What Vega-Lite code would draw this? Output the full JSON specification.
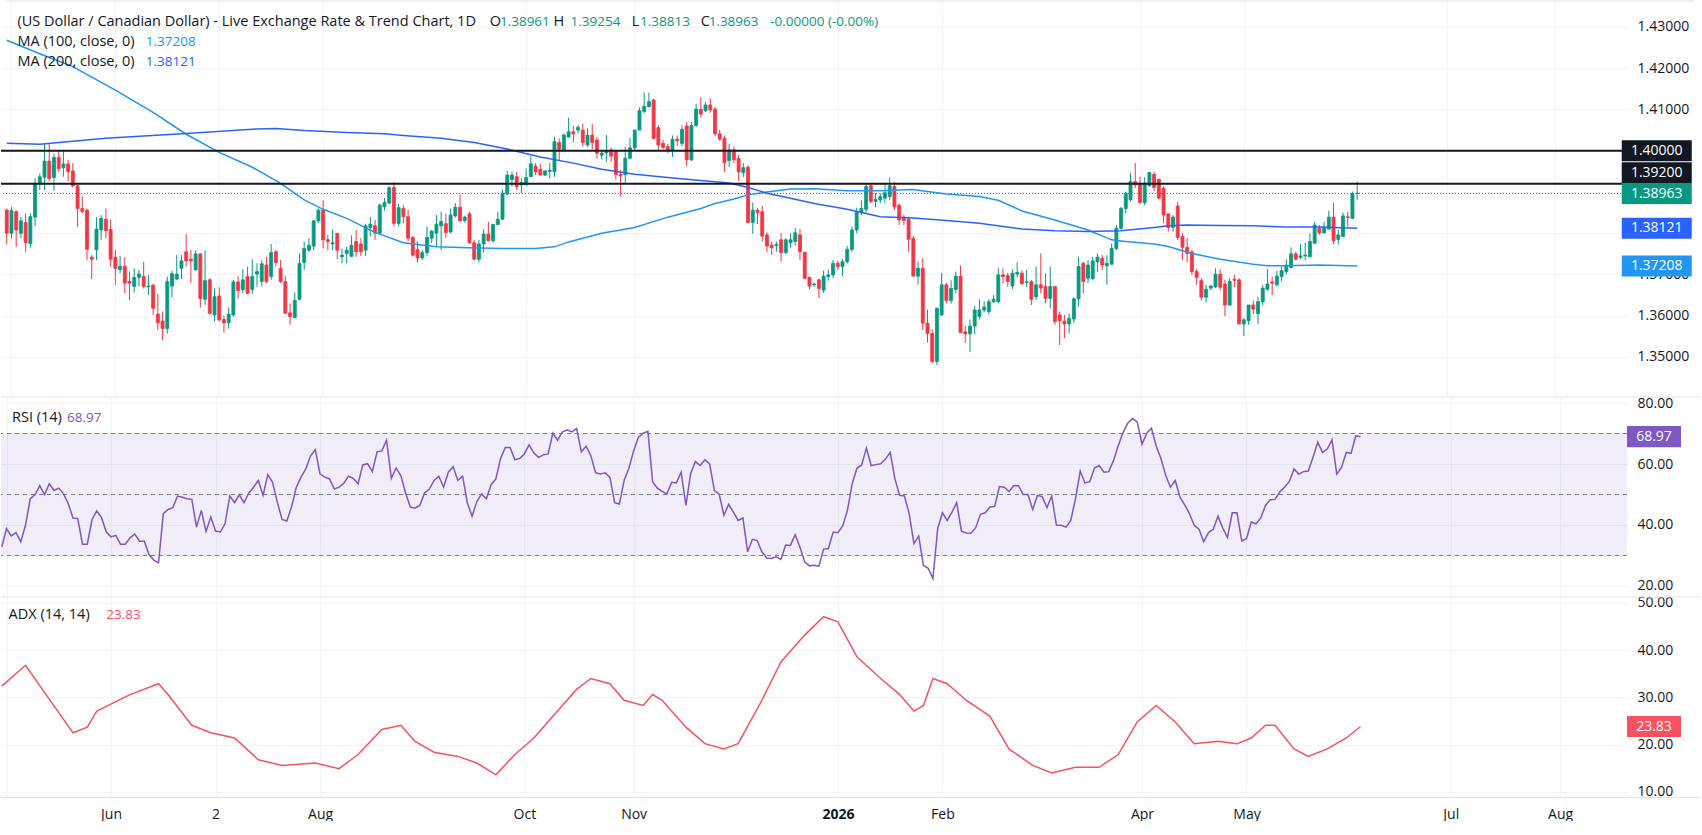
{
  "$schema": "https://vega.github.io/schema/vega-lite/v6.json",
  "padding": 0,
  "background": "white",
  "spacing": 0,
  "bounds": "flush",
  "config": {
    "view": {"stroke": null},
    "font": "Open Sans",
    "axis": {"labelFont": "Open Sans", "labelFontSize": 14, "labelColor": "#131722", "gridColor": "#f0f3fa", "ticks": false, "domain": false, "labelPadding": 10, "zindex": 0},
    "text": {"font": "Open Sans", "fontSize": 14}
  },
  "datasets": {"one": [{}]},
  "data": {"name": "bars", "values": [
{"o":1.3856,"h":1.386,"l":1.3773,"c":1.38,"r":32.8,"m1":1.4268,"m2":1.4018,"a":32.4},
{"o":1.38,"h":1.3863,"l":1.3788,"c":1.3855,"r":38.8},
{"o":1.3852,"h":1.3856,"l":1.3767,"c":1.3808,"r":36.4},
{"o":1.38,"h":1.384,"l":1.3788,"c":1.383,"r":37.5},
{"o":1.3826,"h":1.3848,"l":1.3754,"c":1.3777,"r":34.5},
{"o":1.3775,"h":1.3848,"l":1.3765,"c":1.384,"r":39.9,"a":36.8},
{"o":1.3839,"h":1.3933,"l":1.3817,"c":1.3921,"r":48.6},
{"o":1.3921,"h":1.3945,"l":1.3905,"c":1.3937,"r":49.9,"m1":1.4235,"m2":1.4016},
{"o":1.3936,"h":1.4018,"l":1.3905,"c":1.3975,"r":52.9},
{"o":1.3975,"h":1.4016,"l":1.3926,"c":1.3933,"r":49.9},
{"o":1.3935,"h":1.3993,"l":1.3903,"c":1.3984,"r":53.5},
{"o":1.3984,"h":1.4002,"l":1.3949,"c":1.3957,"r":51.3},
{"o":1.3959,"h":1.3998,"l":1.3937,"c":1.3968,"r":52.1},
{"o":1.3968,"h":1.3978,"l":1.3926,"c":1.3949,"r":50.2},
{"o":1.3951,"h":1.397,"l":1.3911,"c":1.3915,"r":47.0,"m1":1.4204},
{"o":1.3915,"h":1.392,"l":1.3815,"c":1.386,"r":42.3,"a":22.5},
{"o":1.386,"h":1.389,"l":1.3848,"c":1.3853,"r":42.1},
{"o":1.3856,"h":1.386,"l":1.3735,"c":1.3761,"r":33.7},
{"o":1.3742,"h":1.3747,"l":1.3689,"c":1.3737,"r":33.7,"a":23.7},
{"o":1.376,"h":1.3839,"l":1.3735,"c":1.381,"r":41.8},
{"o":1.3808,"h":1.3844,"l":1.3784,"c":1.3836,"r":44.6,"a":27.1},
{"o":1.3834,"h":1.386,"l":1.3788,"c":1.3806,"r":42.4,"m2":1.403},
{"o":1.3809,"h":1.3832,"l":1.3719,"c":1.3737,"r":37.7},
{"o":1.3742,"h":1.3759,"l":1.3675,"c":1.3715,"r":36.1,"m1":1.4147},
{"o":1.3712,"h":1.3745,"l":1.3703,"c":1.372,"r":36.6},
{"o":1.372,"h":1.3742,"l":1.3655,"c":1.3679,"r":33.7},
{"o":1.3683,"h":1.3707,"l":1.3638,"c":1.3679,"r":33.7},
{"o":1.3671,"h":1.3715,"l":1.3656,"c":1.3693,"r":35.8,"a":30.6},
{"o":1.3693,"h":1.3711,"l":1.3671,"c":1.3701,"r":37.0},
{"o":1.3695,"h":1.3731,"l":1.3666,"c":1.3671,"r":34.7},
{"o":1.367,"h":1.3699,"l":1.365,"c":1.3672,"r":34.7},
{"o":1.3674,"h":1.3677,"l":1.3602,"c":1.3618,"r":30.3,"m1":1.4093},
{"o":1.3604,"h":1.3653,"l":1.3565,"c":1.3583,"r":28.5},
{"o":1.3587,"h":1.361,"l":1.3541,"c":1.3569,"r":27.6,"a":32.9},
{"o":1.3569,"h":1.3695,"l":1.3557,"c":1.3683,"r":43.7},
{"o":1.3672,"h":1.3709,"l":1.3644,"c":1.3702,"r":45.1,"a":30.6},
{"o":1.3689,"h":1.3747,"l":1.3687,"c":1.3701,"r":45.7},
{"o":1.3715,"h":1.3747,"l":1.3688,"c":1.3733,"r":49.5},
{"o":1.3755,"h":1.3798,"l":1.3719,"c":1.3733,"r":49.1,"m1":1.404,"m2":1.4042},
{"o":1.3737,"h":1.3759,"l":1.368,"c":1.3733,"r":48.6},
{"o":1.3711,"h":1.3759,"l":1.3711,"c":1.375,"r":48.4,"a":24.1},
{"o":1.375,"h":1.3751,"l":1.362,"c":1.3642,"r":39.3},
{"o":1.364,"h":1.3759,"l":1.3626,"c":1.3685,"r":44.8},
{"o":1.3687,"h":1.3691,"l":1.3602,"c":1.3606,"r":37.9},
{"o":1.3602,"h":1.3666,"l":1.3586,"c":1.3646,"r":42.6,"a":22.5},
{"o":1.3648,"h":1.3669,"l":1.3586,"c":1.359,"r":38.0,"m1":1.3996},
{"o":1.3591,"h":1.3601,"l":1.3559,"c":1.3583,"r":37.7},
{"o":1.3583,"h":1.362,"l":1.3569,"c":1.3604,"r":40.4},
{"o":1.3602,"h":1.3687,"l":1.3598,"c":1.3682,"r":49.5},
{"o":1.3682,"h":1.3696,"l":1.3642,"c":1.3661,"r":47.3,"a":21.4},
{"o":1.3663,"h":1.3713,"l":1.3654,"c":1.3687,"r":49.9},
{"o":1.3695,"h":1.3719,"l":1.3653,"c":1.3654,"r":47.3},
{"o":1.3664,"h":1.3737,"l":1.3653,"c":1.3695,"r":50.5,"m1":1.396},
{"o":1.3701,"h":1.3727,"l":1.367,"c":1.3707,"r":52.4,"m2":1.4053},
{"o":1.3683,"h":1.3734,"l":1.3672,"c":1.3726,"r":54.6,"a":16.8},
{"o":1.3723,"h":1.3743,"l":1.3679,"c":1.3683,"r":49.7},
{"o":1.3695,"h":1.3774,"l":1.3687,"c":1.3753,"r":56.5},
{"o":1.3755,"h":1.3759,"l":1.3719,"c":1.3729,"r":54.0,"m2":1.4054},
{"o":1.3715,"h":1.3735,"l":1.3679,"c":1.3683,"r":47.5,"m1":1.3921},
{"o":1.3683,"h":1.3696,"l":1.3606,"c":1.3606,"r":41.8,"a":15.6},
{"o":1.3607,"h":1.363,"l":1.3578,"c":1.3598,"r":41.3},
{"o":1.3595,"h":1.3656,"l":1.3595,"c":1.3637,"r":45.9},
{"o":1.364,"h":1.3751,"l":1.3638,"c":1.3727,"r":52.4},
{"o":1.3729,"h":1.378,"l":1.3711,"c":1.3763,"r":55.7,"m1":1.3881,"m2":1.4049},
{"o":1.3759,"h":1.3788,"l":1.3755,"c":1.3771,"r":58.4},
{"o":1.3769,"h":1.3832,"l":1.3759,"c":1.383,"r":62.7},
{"o":1.383,"h":1.386,"l":1.3824,"c":1.3856,"r":64.7,"a":16.1},
{"o":1.3856,"h":1.388,"l":1.3763,"c":1.3784,"r":56.7,"m1":1.3858},
{"o":1.3784,"h":1.3796,"l":1.3759,"c":1.378,"r":55.7},
{"o":1.3774,"h":1.3809,"l":1.3759,"c":1.3777,"r":55.1},
{"o":1.38,"h":1.38,"l":1.3737,"c":1.3759,"r":51.8},
{"o":1.3743,"h":1.3763,"l":1.3727,"c":1.3747,"r":52.4,"a":14.9},
{"o":1.3751,"h":1.3767,"l":1.3727,"c":1.3759,"r":53.7,"m1":1.3836,"m2":1.4044},
{"o":1.3744,"h":1.3795,"l":1.3743,"c":1.3771,"r":56.0},
{"o":1.378,"h":1.3808,"l":1.3743,"c":1.3755,"r":55.3},
{"o":1.3774,"h":1.3788,"l":1.3745,"c":1.3755,"r":53.5,"a":17.9},
{"o":1.3759,"h":1.3823,"l":1.3745,"c":1.3818,"r":59.7},
{"o":1.3814,"h":1.384,"l":1.3792,"c":1.3822,"r":60.1},
{"o":1.3818,"h":1.3832,"l":1.3784,"c":1.38,"r":57.5,"m1":1.3802},
{"o":1.38,"h":1.3872,"l":1.38,"c":1.3868,"r":64.0},
{"o":1.3864,"h":1.3885,"l":1.3855,"c":1.3874,"r":64.3,"m2":1.4041,"a":23.2},
{"o":1.3873,"h":1.3913,"l":1.3871,"c":1.3911,"r":67.8},
{"o":1.3911,"h":1.3924,"l":1.3816,"c":1.3824,"r":55.3},
{"o":1.3824,"h":1.3871,"l":1.3816,"c":1.3862,"r":58.7},
{"o":1.386,"h":1.3868,"l":1.3824,"c":1.384,"r":56.2,"m1":1.3777,"m2":1.4037,"a":24.1},
{"o":1.384,"h":1.3857,"l":1.378,"c":1.3788,"r":50.5},
{"o":1.379,"h":1.3793,"l":1.3743,"c":1.3747,"r":45.9},
{"o":1.376,"h":1.378,"l":1.3729,"c":1.374,"r":45.5,"a":20.7},
{"o":1.374,"h":1.3759,"l":1.3735,"c":1.3753,"r":46.4},
{"o":1.3753,"h":1.3816,"l":1.3745,"c":1.379,"r":50.5},
{"o":1.3788,"h":1.3808,"l":1.3776,"c":1.3805,"r":51.8},
{"o":1.38,"h":1.3844,"l":1.3767,"c":1.3822,"r":54.6,"m1":1.3767,"a":18.4},
{"o":1.3818,"h":1.3852,"l":1.3759,"c":1.3828,"r":56.0,"m2":1.403},
{"o":1.3823,"h":1.3848,"l":1.3789,"c":1.3802,"r":52.4},
{"o":1.3803,"h":1.386,"l":1.38,"c":1.3844,"r":57.3},
{"o":1.3842,"h":1.3873,"l":1.3838,"c":1.3863,"r":59.2},
{"o":1.3863,"h":1.3893,"l":1.3828,"c":1.383,"r":54.6,"a":17.5},
{"o":1.3831,"h":1.3843,"l":1.3826,"c":1.3839,"r":56.0},
{"o":1.3847,"h":1.3852,"l":1.3774,"c":1.3777,"r":47.3,"m1":1.3765},
{"o":1.3777,"h":1.3784,"l":1.3735,"c":1.3737,"r":42.9,"m2":1.402},
{"o":1.3737,"h":1.3784,"l":1.3729,"c":1.3774,"r":47.7,"a":16.1},
{"o":1.3774,"h":1.381,"l":1.3753,"c":1.3798,"r":50.2},
{"o":1.3798,"h":1.3828,"l":1.378,"c":1.3782,"r":48.6},
{"o":1.3782,"h":1.3823,"l":1.3777,"c":1.3821,"r":53.2},
{"o":1.3821,"h":1.3852,"l":1.382,"c":1.3834,"r":55.1,"a":13.6},
{"o":1.3834,"h":1.3906,"l":1.3832,"c":1.3897,"r":61.8,"m1":1.3763},
{"o":1.3895,"h":1.3952,"l":1.3893,"c":1.3941,"r":65.4,"m2":1.4004},
{"o":1.393,"h":1.3949,"l":1.3913,"c":1.3941,"r":65.4},
{"o":1.3937,"h":1.3949,"l":1.3905,"c":1.3913,"r":61.4,"a":17.9},
{"o":1.3917,"h":1.3933,"l":1.3897,"c":1.3923,"r":61.8},
{"o":1.3917,"h":1.3957,"l":1.3917,"c":1.3935,"r":63.3},
{"o":1.3937,"h":1.3987,"l":1.3937,"c":1.3968,"r":66.3},
{"o":1.3963,"h":1.397,"l":1.3941,"c":1.3949,"r":63.6,"m1":1.3763,"a":21.4},
{"o":1.3955,"h":1.3968,"l":1.3941,"c":1.3941,"r":62.2,"m2":1.3985},
{"o":1.3941,"h":1.3953,"l":1.3939,"c":1.3951,"r":63.0},
{"o":1.395,"h":1.3971,"l":1.3933,"c":1.3953,"r":63.3},
{"o":1.3949,"h":1.4034,"l":1.3937,"c":1.4022,"r":70.1,"m1":1.3767,"a":26.0},
{"o":1.402,"h":1.403,"l":1.3977,"c":1.4003,"r":67.8},
{"o":1.4,"h":1.4042,"l":1.3998,"c":1.4038,"r":70.5},
{"o":1.4033,"h":1.408,"l":1.4032,"c":1.4046,"r":71.2,"m1":1.3779},
{"o":1.4046,"h":1.406,"l":1.402,"c":1.4041,"r":70.5,"m2":1.397},
{"o":1.405,"h":1.4062,"l":1.4042,"c":1.4057,"r":71.6,"a":31.7},
{"o":1.405,"h":1.4066,"l":1.401,"c":1.402,"r":64.0},
{"o":1.4014,"h":1.4054,"l":1.401,"c":1.4038,"r":65.8},
{"o":1.4038,"h":1.4065,"l":1.4003,"c":1.402,"r":62.7,"a":34.0},
{"o":1.4026,"h":1.4033,"l":1.3981,"c":1.3994,"r":57.1},
{"o":1.3989,"h":1.3998,"l":1.3979,"c":1.3994,"r":56.7,"m1":1.38,"m2":1.3955},
{"o":1.3995,"h":1.4038,"l":1.3973,"c":1.3998,"r":57.1},
{"o":1.4002,"h":1.4008,"l":1.3973,"c":1.3987,"r":55.7,"a":32.9},
{"o":1.3998,"h":1.4002,"l":1.393,"c":1.3942,"r":47.3},
{"o":1.3943,"h":1.3953,"l":1.3889,"c":1.3939,"r":46.9},
{"o":1.3942,"h":1.401,"l":1.3922,"c":1.3982,"r":54.6,"a":29.4},
{"o":1.3982,"h":1.4031,"l":1.398,"c":1.4007,"r":58.6},
{"o":1.4007,"h":1.4052,"l":1.4001,"c":1.405,"r":64.3,"m1":1.3814,"m2":1.3943},
{"o":1.405,"h":1.4105,"l":1.405,"c":1.4097,"r":68.7},
{"o":1.4095,"h":1.4141,"l":1.4091,"c":1.4108,"r":70.1,"a":28.3},
{"o":1.4107,"h":1.4141,"l":1.4105,"c":1.4119,"r":70.7},
{"o":1.4123,"h":1.4126,"l":1.4028,"c":1.403,"r":54.2,"a":30.6},
{"o":1.4056,"h":1.4062,"l":1.4002,"c":1.4014,"r":52.1},
{"o":1.4018,"h":1.4026,"l":1.4003,"c":1.4008,"r":51.0,"a":29.4},
{"o":1.401,"h":1.4017,"l":1.3994,"c":1.4,"r":50.2,"m1":1.3839,"m2":1.3935},
{"o":1.4002,"h":1.4037,"l":1.3985,"c":1.4028,"r":54.0},
{"o":1.4028,"h":1.4037,"l":1.4012,"c":1.4024,"r":53.8},
{"o":1.4018,"h":1.4062,"l":1.401,"c":1.4052,"r":57.3},
{"o":1.406,"h":1.407,"l":1.3962,"c":1.3978,"r":46.4,"a":23.7},
{"o":1.3978,"h":1.407,"l":1.3975,"c":1.4061,"r":56.8},
{"o":1.4061,"h":1.4114,"l":1.4058,"c":1.4101,"r":60.8},
{"o":1.41,"h":1.413,"l":1.408,"c":1.4089,"r":59.5,"m1":1.386,"m2":1.3928},
{"o":1.4097,"h":1.4118,"l":1.4094,"c":1.4111,"r":61.4,"a":20.2},
{"o":1.4111,"h":1.4127,"l":1.4092,"c":1.4099,"r":60.0},
{"o":1.4101,"h":1.4106,"l":1.4036,"c":1.4041,"r":51.3,"m1":1.3872},
{"o":1.4041,"h":1.405,"l":1.4024,"c":1.4028,"r":50.1},
{"o":1.403,"h":1.4037,"l":1.3948,"c":1.3971,"r":43.2,"a":19.1},
{"o":1.3976,"h":1.4017,"l":1.396,"c":1.4002,"r":46.8,"m2":1.3922},
{"o":1.4002,"h":1.401,"l":1.397,"c":1.3978,"r":44.2,"m1":1.3883},
{"o":1.3981,"h":1.399,"l":1.3927,"c":1.3949,"r":41.5,"a":20.2},
{"o":1.3947,"h":1.397,"l":1.3936,"c":1.3959,"r":42.3},
{"o":1.396,"h":1.3965,"l":1.3826,"c":1.3826,"r":31.2,"m1":1.3893,"m2":1.3911},
{"o":1.3826,"h":1.3874,"l":1.3799,"c":1.3856,"r":35.3},
{"o":1.3856,"h":1.3861,"l":1.3822,"c":1.385,"r":34.9},
{"o":1.3852,"h":1.3866,"l":1.378,"c":1.3793,"r":31.2,"a":29.4},
{"o":1.3796,"h":1.3802,"l":1.3754,"c":1.3769,"r":29.2,"m1":1.39,"m2":1.3897},
{"o":1.3771,"h":1.378,"l":1.3747,"c":1.3765,"r":29.0},
{"o":1.377,"h":1.378,"l":1.3755,"c":1.3773,"r":29.6},
{"o":1.3784,"h":1.38,"l":1.3731,"c":1.3753,"r":28.7,"a":37.5},
{"o":1.3753,"h":1.3788,"l":1.375,"c":1.3784,"r":33.4},
{"o":1.3777,"h":1.38,"l":1.3765,"c":1.3784,"r":33.3,"m1":1.3907,"m2":1.3885},
{"o":1.378,"h":1.3813,"l":1.377,"c":1.3801,"r":36.8},
{"o":1.3796,"h":1.381,"l":1.3735,"c":1.3755,"r":32.8},
{"o":1.3754,"h":1.3754,"l":1.3688,"c":1.3691,"r":27.9,"a":43.2},
{"o":1.3693,"h":1.3695,"l":1.3664,"c":1.3672,"r":26.6},
{"o":1.3675,"h":1.368,"l":1.367,"c":1.3677,"r":26.8,"m1":1.3908,"m2":1.3872},
{"o":1.3687,"h":1.369,"l":1.3643,"c":1.3666,"r":26.5},
{"o":1.3662,"h":1.3709,"l":1.3655,"c":1.3696,"r":32.1,"a":47.1},
{"o":1.3695,"h":1.3712,"l":1.3685,"c":1.3699,"r":32.3},
{"o":1.3699,"h":1.3735,"l":1.3691,"c":1.3727,"r":37.7},
{"o":1.3727,"h":1.3733,"l":1.3711,"c":1.3719,"r":37.5,"a":46.0},
{"o":1.3719,"h":1.3737,"l":1.3696,"c":1.3731,"r":39.7},
{"o":1.3731,"h":1.3769,"l":1.3727,"c":1.3761,"r":44.8,"m1":1.3903,"m2":1.3858},
{"o":1.3761,"h":1.3816,"l":1.3755,"c":1.3808,"r":53.5},
{"o":1.3808,"h":1.3862,"l":1.38,"c":1.3852,"r":58.6,"a":38.6},
{"o":1.3852,"h":1.388,"l":1.3844,"c":1.386,"r":59.7},
{"o":1.3858,"h":1.3921,"l":1.385,"c":1.3913,"r":65.2,"m2":1.3848},
{"o":1.3915,"h":1.3921,"l":1.3873,"c":1.3877,"r":59.5},
{"o":1.3877,"h":1.3897,"l":1.3863,"c":1.3882,"r":59.8},
{"o":1.3881,"h":1.3897,"l":1.3873,"c":1.3889,"r":60.1,"m1":1.3903,"m2":1.384,"a":34.0},
{"o":1.3885,"h":1.3921,"l":1.3873,"c":1.3898,"r":61.6},
{"o":1.3889,"h":1.3935,"l":1.3881,"c":1.3915,"r":63.8},
{"o":1.3913,"h":1.3925,"l":1.3856,"c":1.3864,"r":55.1},
{"o":1.3868,"h":1.3872,"l":1.382,"c":1.3832,"r":49.7,"a":30.6},
{"o":1.3839,"h":1.3845,"l":1.382,"c":1.3831,"r":49.5},
{"o":1.3834,"h":1.384,"l":1.3755,"c":1.3785,"r":43.7},
{"o":1.3788,"h":1.3793,"l":1.3696,"c":1.3696,"r":33.9,"m1":1.3906,"m2":1.3837,"a":27.1},
{"o":1.3696,"h":1.3731,"l":1.3675,"c":1.3715,"r":36.4},
{"o":1.3715,"h":1.374,"l":1.3565,"c":1.3582,"r":26.8,"a":28.3},
{"o":1.3582,"h":1.3615,"l":1.3535,"c":1.3557,"r":25.8,"m1":1.3901},
{"o":1.3557,"h":1.3567,"l":1.3485,"c":1.3489,"r":22.5,"a":34.0},
{"o":1.3489,"h":1.362,"l":1.348,"c":1.3618,"r":38.8},
{"o":1.3602,"h":1.3704,"l":1.36,"c":1.3675,"r":44.0},
{"o":1.3675,"h":1.368,"l":1.363,"c":1.3637,"r":41.5,"m1":1.3895,"m2":1.3831,"a":32.9},
{"o":1.3637,"h":1.3686,"l":1.3629,"c":1.3666,"r":44.2},
{"o":1.3664,"h":1.3707,"l":1.3655,"c":1.3696,"r":47.3},
{"o":1.3696,"h":1.3722,"l":1.3559,"c":1.3559,"r":38.0},
{"o":1.3561,"h":1.3575,"l":1.3534,"c":1.3556,"r":37.4,"a":29.4},
{"o":1.3556,"h":1.3591,"l":1.3512,"c":1.3575,"r":37.3},
{"o":1.3575,"h":1.3624,"l":1.3555,"c":1.3614,"r":39.1},
{"o":1.3598,"h":1.364,"l":1.3591,"c":1.3614,"r":43.5,"m1":1.3889,"m2":1.3824},
{"o":1.3614,"h":1.3635,"l":1.3608,"c":1.3621,"r":44.0},
{"o":1.361,"h":1.364,"l":1.3603,"c":1.3634,"r":45.9,"a":26.0},
{"o":1.3634,"h":1.365,"l":1.363,"c":1.364,"r":46.1},
{"o":1.3634,"h":1.3715,"l":1.363,"c":1.3699,"r":52.6,"m1":1.388},
{"o":1.3699,"h":1.3715,"l":1.3678,"c":1.3695,"r":52.4},
{"o":1.3697,"h":1.3704,"l":1.367,"c":1.3683,"r":51.0,"a":19.1},
{"o":1.3672,"h":1.3712,"l":1.3664,"c":1.3703,"r":52.9},
{"o":1.3701,"h":1.373,"l":1.3693,"c":1.3705,"r":52.9},
{"o":1.3703,"h":1.371,"l":1.3674,"c":1.3678,"r":50.0,"m1":1.3854,"m2":1.381},
{"o":1.3681,"h":1.3711,"l":1.367,"c":1.3682,"r":50.0},
{"o":1.3683,"h":1.3687,"l":1.3626,"c":1.364,"r":45.1,"a":15.6},
{"o":1.3646,"h":1.3719,"l":1.3638,"c":1.3675,"r":49.7},
{"o":1.3675,"h":1.3751,"l":1.3654,"c":1.3667,"r":49.3},
{"o":1.3671,"h":1.3703,"l":1.363,"c":1.3642,"r":45.7},
{"o":1.3642,"h":1.3719,"l":1.3618,"c":1.3671,"r":49.5,"a":14.0},
{"o":1.3671,"h":1.3671,"l":1.3578,"c":1.3586,"r":39.9,"m1":1.3832,"m2":1.3806},
{"o":1.3602,"h":1.361,"l":1.3529,"c":1.3588,"r":39.9},
{"o":1.3587,"h":1.3602,"l":1.3545,"c":1.358,"r":39.3},
{"o":1.358,"h":1.3606,"l":1.3557,"c":1.3594,"r":41.4},
{"o":1.3592,"h":1.3645,"l":1.3582,"c":1.3641,"r":48.6,"a":15.2},
{"o":1.3641,"h":1.3743,"l":1.3622,"c":1.3719,"r":57.7},
{"o":1.3727,"h":1.3731,"l":1.3654,"c":1.3683,"r":53.8},
{"o":1.3691,"h":1.3735,"l":1.3679,"c":1.3723,"r":54.2,"m1":1.3808,"m2":1.3804},
{"o":1.369,"h":1.3743,"l":1.3687,"c":1.3733,"r":58.7},
{"o":1.3731,"h":1.3751,"l":1.3707,"c":1.3742,"r":59.5,"a":15.2},
{"o":1.3739,"h":1.3747,"l":1.3711,"c":1.3723,"r":57.3},
{"o":1.3721,"h":1.3747,"l":1.3675,"c":1.3727,"r":57.5},
{"o":1.3725,"h":1.3775,"l":1.3723,"c":1.3763,"r":61.1,"m1":1.3784},
{"o":1.3763,"h":1.382,"l":1.3759,"c":1.3812,"r":66.0,"a":17.9},
{"o":1.3812,"h":1.3864,"l":1.3808,"c":1.386,"r":70.3,"m2":1.3806},
{"o":1.386,"h":1.3901,"l":1.3848,"c":1.3897,"r":73.4,"m1":1.378},
{"o":1.3881,"h":1.3947,"l":1.3877,"c":1.3925,"r":74.9},
{"o":1.3925,"h":1.397,"l":1.3909,"c":1.3917,"r":73.8,"a":24.8},
{"o":1.3921,"h":1.3937,"l":1.3873,"c":1.3874,"r":66.5},
{"o":1.3874,"h":1.3936,"l":1.3868,"c":1.3921,"r":70.1},
{"o":1.3915,"h":1.3949,"l":1.3913,"c":1.3947,"r":71.7},
{"o":1.3943,"h":1.3949,"l":1.3903,"c":1.3911,"r":65.8,"m1":1.3774,"m2":1.3814,"a":28.3},
{"o":1.3931,"h":1.3931,"l":1.3881,"c":1.3885,"r":61.8},
{"o":1.3909,"h":1.3913,"l":1.3824,"c":1.3844,"r":56.2},
{"o":1.3847,"h":1.3847,"l":1.3804,"c":1.3814,"r":52.4,"m1":1.3768,"m2":1.3818},
{"o":1.3814,"h":1.3844,"l":1.3804,"c":1.3839,"r":54.6,"a":24.8},
{"o":1.3866,"h":1.3877,"l":1.3784,"c":1.379,"r":49.1},
{"o":1.3792,"h":1.38,"l":1.3735,"c":1.3766,"r":46.6},
{"o":1.3766,"h":1.3788,"l":1.3729,"c":1.3751,"r":43.7,"m2":1.382},
{"o":1.3755,"h":1.3759,"l":1.3699,"c":1.3707,"r":39.9,"m1":1.3751,"a":20.2},
{"o":1.3707,"h":1.3713,"l":1.3675,"c":1.3693,"r":38.6},
{"o":1.3685,"h":1.3691,"l":1.3637,"c":1.3645,"r":34.5},
{"o":1.3645,"h":1.3675,"l":1.3632,"c":1.3664,"r":37.5},
{"o":1.3667,"h":1.3675,"l":1.3662,"c":1.3672,"r":38.6},
{"o":1.367,"h":1.3715,"l":1.3667,"c":1.3701,"r":42.9,"a":20.7},
{"o":1.3701,"h":1.3713,"l":1.3662,"c":1.3669,"r":39.0,"m1":1.3737,"m2":1.3819},
{"o":1.3677,"h":1.3687,"l":1.3599,"c":1.3626,"r":35.9},
{"o":1.3626,"h":1.3691,"l":1.3624,"c":1.3683,"r":44.0},
{"o":1.3688,"h":1.3699,"l":1.367,"c":1.3686,"r":44.0,"a":20.2},
{"o":1.3687,"h":1.3691,"l":1.358,"c":1.358,"r":34.8},
{"o":1.358,"h":1.3595,"l":1.3551,"c":1.359,"r":35.5},
{"o":1.3588,"h":1.3626,"l":1.3578,"c":1.3626,"r":41.0,"a":21.4},
{"o":1.3626,"h":1.3637,"l":1.3604,"c":1.3616,"r":40.4,"m1":1.3725,"m2":1.3818},
{"o":1.3605,"h":1.3645,"l":1.358,"c":1.3634,"r":42.3},
{"o":1.3634,"h":1.3675,"l":1.3626,"c":1.3667,"r":46.4,"a":24.1},
{"o":1.3664,"h":1.3713,"l":1.3661,"c":1.3677,"r":48.3,"m1":1.3721},
{"o":1.3682,"h":1.3695,"l":1.365,"c":1.3679,"r":48.4,"a":24.1},
{"o":1.3675,"h":1.3709,"l":1.3671,"c":1.3696,"r":50.8},
{"o":1.3695,"h":1.3723,"l":1.3683,"c":1.3709,"r":52.4},
{"o":1.3707,"h":1.3737,"l":1.3701,"c":1.3723,"r":54.2,"m1":1.3721,"m2":1.3815},
{"o":1.3717,"h":1.3766,"l":1.3715,"c":1.375,"r":58.4,"a":19.1},
{"o":1.375,"h":1.3755,"l":1.3734,"c":1.3737,"r":56.7},
{"o":1.3742,"h":1.3774,"l":1.3737,"c":1.3745,"r":57.5},
{"o":1.3745,"h":1.3777,"l":1.3734,"c":1.3747,"r":57.7,"a":17.5},
{"o":1.3743,"h":1.38,"l":1.3742,"c":1.378,"r":62.2},
{"o":1.3776,"h":1.3828,"l":1.3774,"c":1.382,"r":67.1},
{"o":1.3812,"h":1.382,"l":1.3796,"c":1.3801,"r":63.8,"m1":1.3723,"m2":1.3815},
{"o":1.3801,"h":1.3828,"l":1.38,"c":1.3814,"r":64.9,"a":19.1},
{"o":1.381,"h":1.3855,"l":1.381,"c":1.3839,"r":67.9},
{"o":1.3839,"h":1.3873,"l":1.3774,"c":1.3782,"r":56.7},
{"o":1.3785,"h":1.3808,"l":1.3772,"c":1.3796,"r":58.9},
{"o":1.3792,"h":1.385,"l":1.3792,"c":1.3842,"r":63.8,"a":21.4},
{"o":1.384,"h":1.3852,"l":1.3816,"c":1.3838,"r":63.5},
{"o":1.3836,"h":1.3901,"l":1.3834,"c":1.3896,"r":69.2},
{"o":1.38961,"h":1.39254,"l":1.38813,"c":1.38963,"r":68.97,"m1":1.37208,"m2":1.38121,"a":23.83}
  ]},
  "transform": [{"window": [{"op": "row_number", "as": "n"}]}],
  "vconcat": [
    {
      "width": 1626,
      "height": 397,
      "layer": [
        {
          "mark": {"type": "rule", "strokeWidth": 1, "clip": true},
          "encoding": {
            "x": {"field": "n", "type": "quantitative", "title": null,
                  "scale": {"domain": [0.842, 343.09], "nice": false, "zero": false},
                  "axis": {"values": [2, 24, 46, 68, 111, 134, 177, 199, 241, 263, 306, 329], "labels": false, "grid": true}},
            "y": {"field": "l", "type": "quantitative", "title": null,
                  "scale": {"domain": [1.3403, 1.436545], "nice": false, "zero": false},
                  "axis": {"orient": "right", "values": [1.35, 1.36, 1.37, 1.38, 1.39, 1.4, 1.41, 1.42, 1.43], "grid": true,
                           "labelExpr": "datum.value > 1.375 && datum.value < 1.405 ? '' : format(datum.value, '.5f')"}},
            "y2": {"field": "h"},
            "color": {"condition": {"test": "datum.c >= datum.o", "value": "#089981"}, "value": "#f23645"}
          }
        },
        {
          "mark": {"type": "bar", "width": 3, "strokeWidth": 0.8, "clip": true},
          "encoding": {
            "x": {"field": "n", "type": "quantitative"},
            "y": {"field": "o", "type": "quantitative", "title": null},
            "y2": {"field": "c"},
            "fill": {"condition": {"test": "datum.c >= datum.o", "value": "#089981"}, "value": "#f23645"},
            "stroke": {"condition": {"test": "datum.c >= datum.o", "value": "#089981"}, "value": "#f23645"}
          }
        },
        {
          "transform": [{"filter": "isValid(datum.m1)"}],
          "mark": {"type": "line", "color": "#2196f3", "strokeWidth": 1.5, "clip": true},
          "encoding": {
            "x": {"field": "n", "type": "quantitative"},
            "y": {"field": "m1", "type": "quantitative", "title": null}
          }
        },
        {
          "transform": [{"filter": "isValid(datum.m2)"}],
          "mark": {"type": "line", "color": "#2962ff", "strokeWidth": 1.5, "clip": true},
          "encoding": {
            "x": {"field": "n", "type": "quantitative"},
            "y": {"field": "m2", "type": "quantitative", "title": null}
          }
        },
        {"data": {"name": "one"}, "mark": {"type": "rule", "color": "#e0e3eb", "strokeWidth": 1}, "encoding": {"x": {"datum": 0.842}, "x2": {"datum": 358.6}, "y": {"datum": 1.4363}}},
        {"data": {"name": "one"}, "mark": {"type": "rule", "color": "#131722", "strokeWidth": 2}, "encoding": {"y": {"datum": 1.4}}},
        {"data": {"name": "one"}, "mark": {"type": "rule", "color": "#131722", "strokeWidth": 2}, "encoding": {"y": {"datum": 1.392}}},
        {"data": {"name": "one"}, "mark": {"type": "rule", "color": "#089981", "strokeWidth": 1, "strokeDash": [1, 2]}, "encoding": {"y": {"datum": 1.38963}}},
        {"data": {"name": "one"}, "mark": {"type": "text", "text": "(US Dollar / Canadian Dollar) - Live Exchange Rate & Trend Chart, 1D", "align": "left", "baseline": "middle", "color": "#131722", "fontSize": 14.5}, "encoding": {"x": {"datum": 3.263}, "y": {"datum": 1.431284}}},
        {"data": {"name": "one"}, "mark": {"type": "text", "text": "O", "align": "left", "baseline": "middle", "color": "#131722", "fontSize": 14.5}, "encoding": {"x": {"datum": 103.28}, "y": {"datum": 1.431284}}},
        {"data": {"name": "one"}, "mark": {"type": "text", "text": "1.38961", "align": "left", "baseline": "middle", "color": "#089981", "fontSize": 13.5}, "encoding": {"x": {"datum": 105.45}, "y": {"datum": 1.431284}}},
        {"data": {"name": "one"}, "mark": {"type": "text", "text": "H", "align": "left", "baseline": "middle", "color": "#131722", "fontSize": 14.5}, "encoding": {"x": {"datum": 116.82}, "y": {"datum": 1.431284}}},
        {"data": {"name": "one"}, "mark": {"type": "text", "text": "1.39254", "align": "left", "baseline": "middle", "color": "#089981", "fontSize": 13.5}, "encoding": {"x": {"datum": 120.4}, "y": {"datum": 1.431284}}},
        {"data": {"name": "one"}, "mark": {"type": "text", "text": "L", "align": "left", "baseline": "middle", "color": "#131722", "fontSize": 14.5}, "encoding": {"x": {"datum": 133.36}, "y": {"datum": 1.431284}}},
        {"data": {"name": "one"}, "mark": {"type": "text", "text": "1.38813", "align": "left", "baseline": "middle", "color": "#089981", "fontSize": 13.5}, "encoding": {"x": {"datum": 135.13}, "y": {"datum": 1.431284}}},
        {"data": {"name": "one"}, "mark": {"type": "text", "text": "C", "align": "left", "baseline": "middle", "color": "#131722", "fontSize": 14.5}, "encoding": {"x": {"datum": 147.97}, "y": {"datum": 1.431284}}},
        {"data": {"name": "one"}, "mark": {"type": "text", "text": "1.38963", "align": "left", "baseline": "middle", "color": "#089981", "fontSize": 13.5}, "encoding": {"x": {"datum": 149.65}, "y": {"datum": 1.431284}}},
        {"data": {"name": "one"}, "mark": {"type": "text", "text": "-0.00000 (-0.00%)", "align": "left", "baseline": "middle", "color": "#089981", "fontSize": 13.5}, "encoding": {"x": {"datum": 162.7}, "y": {"datum": 1.431284}}},
        {"data": {"name": "one"}, "mark": {"type": "text", "text": "MA (100, close, 0)", "align": "left", "baseline": "middle", "color": "#131722", "fontSize": 14.5}, "encoding": {"x": {"datum": 3.263}, "y": {"datum": 1.426436}}},
        {"data": {"name": "one"}, "mark": {"type": "text", "text": "1.37208", "align": "left", "baseline": "middle", "color": "#2196f3", "fontSize": 13.5}, "encoding": {"x": {"datum": 30.44}, "y": {"datum": 1.426436}}},
        {"data": {"name": "one"}, "mark": {"type": "text", "text": "MA (200, close, 0)", "align": "left", "baseline": "middle", "color": "#131722", "fontSize": 14.5}, "encoding": {"x": {"datum": 3.263}, "y": {"datum": 1.421588}}},
        {"data": {"name": "one"}, "mark": {"type": "text", "text": "1.38121", "align": "left", "baseline": "middle", "color": "#2962ff", "fontSize": 13.5}, "encoding": {"x": {"datum": 30.44}, "y": {"datum": 1.421588}}},
        {"data": {"name": "one"}, "mark": {"type": "point", "shape": "M-1,-0.3H1V0.3H-1Z", "size": 4900, "filled": true, "opacity": 1, "color": "#131722", "clip": false}, "encoding": {"x": {"datum": 350.45}, "y": {"datum": 1.4}}},
        {"data": {"name": "one"}, "mark": {"type": "point", "shape": "M-1,-0.3H1V0.3H-1Z", "size": 4900, "filled": true, "opacity": 1, "color": "#131722", "clip": false, "yOffset": -11}, "encoding": {"x": {"datum": 350.45}, "y": {"datum": 1.392}}},
        {"data": {"name": "one"}, "mark": {"type": "point", "shape": "M-1,-0.3H1V0.3H-1Z", "size": 4900, "filled": true, "opacity": 1, "color": "#089981", "clip": false}, "encoding": {"x": {"datum": 350.45}, "y": {"datum": 1.38963}}},
        {"data": {"name": "one"}, "mark": {"type": "point", "shape": "M-1,-0.3H1V0.3H-1Z", "size": 4900, "filled": true, "opacity": 1, "color": "#2962ff", "clip": false}, "encoding": {"x": {"datum": 350.45}, "y": {"datum": 1.38121}}},
        {"data": {"name": "one"}, "mark": {"type": "point", "shape": "M-1,-0.3H1V0.3H-1Z", "size": 4900, "filled": true, "opacity": 1, "color": "#2196f3", "clip": false}, "encoding": {"x": {"datum": 350.45}, "y": {"datum": 1.37208}}},
        {"data": {"name": "one"}, "mark": {"type": "text", "text": "1.40000", "align": "center", "baseline": "middle", "color": "white"}, "encoding": {"x": {"datum": 350.45}, "y": {"datum": 1.4}}},
        {"data": {"name": "one"}, "mark": {"type": "text", "text": "1.39200", "align": "center", "baseline": "middle", "color": "white", "dy": -11}, "encoding": {"x": {"datum": 350.45}, "y": {"datum": 1.392}}},
        {"data": {"name": "one"}, "mark": {"type": "text", "text": "1.38963", "align": "center", "baseline": "middle", "color": "white"}, "encoding": {"x": {"datum": 350.45}, "y": {"datum": 1.38963}}},
        {"data": {"name": "one"}, "mark": {"type": "text", "text": "1.38121", "align": "center", "baseline": "middle", "color": "white"}, "encoding": {"x": {"datum": 350.45}, "y": {"datum": 1.38121}}},
        {"data": {"name": "one"}, "mark": {"type": "text", "text": "1.37208", "align": "center", "baseline": "middle", "color": "white"}, "encoding": {"x": {"datum": 350.45}, "y": {"datum": 1.37208}}}
      ]
    },
    {
      "width": 1626,
      "height": 200,
      "layer": [
        {
          "data": {"name": "one"},
          "mark": {"type": "rect", "color": "#7e57c2", "opacity": 0.1},
          "encoding": {
            "y": {"datum": 70, "type": "quantitative", "title": null,
                  "scale": {"domain": [16.39, 81.97], "nice": false, "zero": false},
                  "axis": {"orient": "right", "values": [20, 40, 60, 80], "format": ".2f", "grid": true}},
            "y2": {"datum": 30}
          }
        },
        {"data": {"name": "one"}, "mark": {"type": "rule", "color": "#787b86", "strokeWidth": 1, "strokeDash": [4, 4]}, "encoding": {"y": {"datum": 70}}},
        {"data": {"name": "one"}, "mark": {"type": "rule", "color": "#787b86", "strokeWidth": 1, "strokeDash": [4, 4]}, "encoding": {"y": {"datum": 50}}},
        {"data": {"name": "one"}, "mark": {"type": "rule", "color": "#787b86", "strokeWidth": 1, "strokeDash": [4, 4]}, "encoding": {"y": {"datum": 30}}},
        {
          "mark": {"type": "line", "color": "#7e57c2", "strokeWidth": 1.5, "clip": true},
          "encoding": {
            "x": {"field": "n", "type": "quantitative", "title": null,
                  "scale": {"domain": [0.842, 343.09], "nice": false, "zero": false},
                  "axis": {"values": [2, 24, 46, 68, 111, 134, 177, 199, 241, 263, 306, 329], "labels": false, "grid": true}},
            "y": {"field": "r", "type": "quantitative", "title": null}
          }
        },
        {"data": {"name": "one"}, "mark": {"type": "rule", "color": "#e0e3eb", "strokeWidth": 1}, "encoding": {"x": {"datum": 0.842}, "x2": {"datum": 358.6}, "y": {"datum": 81.97}}},
        {"data": {"name": "one"}, "mark": {"type": "text", "text": "RSI (14)", "align": "left", "baseline": "middle", "color": "#131722", "fontSize": 14.5}, "encoding": {"x": {"datum": 3.157}, "y": {"datum": 75.0}}},
        {"data": {"name": "one"}, "mark": {"type": "text", "text": "68.97", "align": "left", "baseline": "middle", "color": "#7e57c2", "fontSize": 13.5}, "encoding": {"x": {"datum": 14.73}, "y": {"datum": 75.0}}},
        {"data": {"name": "one"}, "mark": {"type": "point", "shape": "M-1,-0.39H1V0.39H-1Z", "size": 2916, "filled": true, "opacity": 1, "color": "#7e57c2", "clip": false}, "encoding": {"x": {"datum": 348.77}, "y": {"datum": 68.97}}},
        {"data": {"name": "one"}, "mark": {"type": "text", "text": "68.97", "align": "center", "baseline": "middle", "color": "white"}, "encoding": {"x": {"datum": 348.77}, "y": {"datum": 68.97}}}
      ]
    },
    {
      "width": 1626,
      "height": 201,
      "layer": [
        {
          "transform": [{"filter": "isValid(datum.a)"}],
          "mark": {"type": "line", "color": "#f7525f", "strokeWidth": 1.5, "clip": true},
          "encoding": {
            "x": {"field": "n", "type": "quantitative", "title": null,
                  "scale": {"domain": [0.842, 343.09], "nice": false, "zero": false},
                  "axis": {"values": [2, 24, 46, 68, 111, 134, 177, 199, 241, 263, 306, 329], "grid": true, "labelPadding": 9, "labelOverlap": false,
                           "labelExpr": "datum.value == 24 ? 'Jun' : datum.value == 46 ? '2' : datum.value == 68 ? 'Aug' : datum.value == 111 ? 'Oct' : datum.value == 134 ? 'Nov' : datum.value == 177 ? '2026' : datum.value == 199 ? 'Feb' : datum.value == 241 ? 'Apr' : datum.value == 263 ? 'May' : datum.value == 306 ? 'Jul' : datum.value == 329 ? 'Aug' : ''",
                           "labelFontWeight": {"condition": {"test": "datum.value == 177", "value": "bold"}, "value": "normal"}}},
            "y": {"field": "a", "type": "quantitative", "title": null,
                  "scale": {"domain": [8.69, 51.27], "nice": false, "zero": false},
                  "axis": {"orient": "right", "values": [10, 20, 30, 40, 50], "format": ".2f", "grid": true}}
          }
        },
        {"data": {"name": "one"}, "mark": {"type": "rule", "color": "#e0e3eb", "strokeWidth": 1}, "encoding": {"x": {"datum": 0.842}, "x2": {"datum": 358.6}, "y": {"datum": 51.27}}},
        {"data": {"name": "one"}, "mark": {"type": "rule", "color": "#e0e3eb", "strokeWidth": 1}, "encoding": {"x": {"datum": 0.842}, "x2": {"datum": 358.6}, "y": {"datum": 8.8}}},
        {"data": {"name": "one"}, "mark": {"type": "text", "text": "ADX (14, 14)", "align": "left", "baseline": "middle", "color": "#131722", "fontSize": 14.5}, "encoding": {"x": {"datum": 2.442}, "y": {"datum": 47.37}}},
        {"data": {"name": "one"}, "mark": {"type": "text", "text": "23.83", "align": "left", "baseline": "middle", "color": "#f7525f", "fontSize": 13.5}, "encoding": {"x": {"datum": 23.01}, "y": {"datum": 47.37}}},
        {"data": {"name": "one"}, "mark": {"type": "point", "shape": "M-1,-0.39H1V0.39H-1Z", "size": 2916, "filled": true, "opacity": 1, "color": "#f7525f", "clip": false}, "encoding": {"x": {"datum": 348.77}, "y": {"datum": 23.83}}},
        {"data": {"name": "one"}, "mark": {"type": "text", "text": "23.83", "align": "center", "baseline": "middle", "color": "white"}, "encoding": {"x": {"datum": 348.77}, "y": {"datum": 23.83}}}
      ]
    }
  ]
}
